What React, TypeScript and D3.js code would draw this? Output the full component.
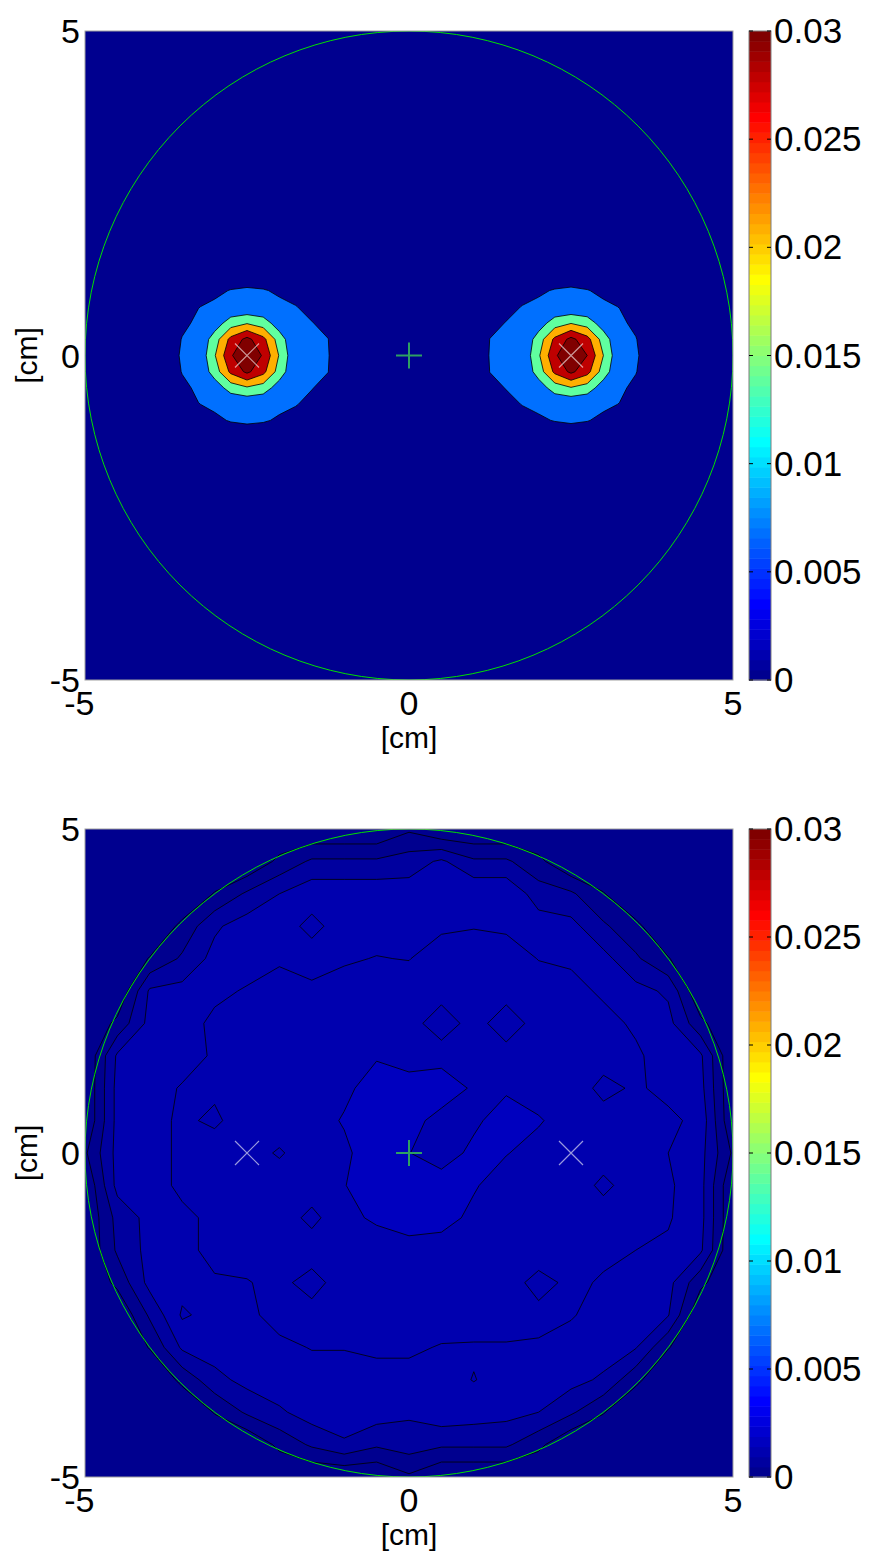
import React, { useEffect, useRef } from "react";
import * as d3 from "d3";

const W = 873;
const H = 1554;
const CMAX = 0.03;

// axis ticks (cm) and colour bar ticks
const axisTicks = [-5, 0, 5];
const axisTickLabels = ["-5", "0", "5"];
const cbarTicks = [0, 0.005, 0.01, 0.015, 0.02, 0.025, 0.03];
const cbarTickLabels = ["0", "0.005", "0.01", "0.015", "0.02", "0.025", "0.03"];

// source marks (cm)
const sourcesX = [-2.5, 2.5];
const centreMark = [0, 0];
const domainRadius = 5;

// ---- top panel: two hot spots, local patches, values x 1e-3, 0.25 cm spacing
const topLevels = [0.007, 0.014, 0.021, 0.028, 0.035];
const topUnit = 1e-3;
const patchStep = 0.25;
const leftSpotCentre = [-2.5, 0];
const rightSpotCentre = [2.5, 0];
const leftSpot = [
  [0, 0, 0, 0.3, 0.7, 0.9, 1, 0.9, 0.7, 0.5, 0.3, 0, 0],
  [0, 0, 0.6, 1.6, 3.2, 4.1, 4.5, 4.2, 3.3, 2.0, 1.2, 0.3, 0],
  [0, 0.6, 2.2, 4.5, 6.1, 7.2, 7.6, 7.3, 6.4, 5.0, 3.2, 1.5, 0.5],
  [0.3, 1.6, 4.5, 6.9, 7.8, 8.0, 8.1, 8.0, 7.9, 7.2, 5.5, 3.0, 1.0],
  [0.7, 3.2, 6.1, 7.8, 10.2, 17.5, 20.4, 17.5, 10.2, 7.9, 7.2, 5.5, 1.5],
  [0.9, 4.1, 7.2, 8.0, 17.5, 30, 37, 30, 17.5, 8.0, 7.8, 7.1, 2.5],
  [1.0, 4.5, 7.6, 8.1, 20.4, 34, 43, 34, 20.4, 8.1, 8.0, 7.3, 3.0],
  [0.9, 4.1, 7.2, 8.0, 17.2, 29.5, 36.5, 30, 17.8, 8.0, 7.8, 7.1, 2.5],
  [0.7, 3.1, 6.0, 7.8, 10, 17, 20, 17.6, 10.5, 7.9, 7.2, 5.4, 1.5],
  [0.3, 1.5, 4.4, 6.9, 7.8, 8.0, 8.2, 8.0, 7.9, 7.3, 5.6, 3.0, 1.0],
  [0, 0.5, 2.2, 4.6, 6.2, 7.3, 7.7, 7.4, 6.5, 5.1, 3.2, 1.5, 0.5],
  [0, 0, 0.6, 1.6, 3.3, 4.2, 4.6, 4.3, 3.4, 2.0, 1.2, 0.3, 0],
  [0, 0, 0, 0.3, 0.7, 0.9, 1, 0.9, 0.7, 0.5, 0.3, 0, 0],
];
const rightSpot = [
  [0, 0, 0.3, 0.5, 0.7, 0.9, 1, 0.9, 0.7, 0.3, 0, 0, 0],
  [0, 0.3, 1.2, 2.0, 3.3, 4.2, 4.5, 4.1, 3.2, 1.6, 0.6, 0, 0],
  [0.5, 1.5, 3.2, 5.0, 6.4, 7.3, 7.7, 7.2, 6.1, 4.5, 2.2, 0.6, 0],
  [1.0, 3.0, 5.5, 7.2, 7.9, 8.0, 8.1, 8.0, 7.8, 6.9, 4.5, 1.6, 0.3],
  [1.5, 5.5, 7.2, 7.9, 10.4, 17.5, 20.6, 17.8, 10.4, 7.8, 6.1, 3.2, 0.7],
  [2.5, 7.1, 7.8, 8.0, 17.3, 29.5, 37, 30.5, 17.8, 8.0, 7.2, 4.1, 0.9],
  [3.0, 7.3, 8.0, 8.1, 20, 33.5, 43, 35, 21, 8.2, 7.6, 4.5, 1.0],
  [2.5, 7.1, 7.8, 8.0, 17.2, 29.5, 36.5, 30.5, 17.6, 8.0, 7.2, 4.1, 0.9],
  [1.5, 5.4, 7.2, 7.9, 10.2, 17.3, 20.4, 17.6, 10.3, 7.8, 6.0, 3.1, 0.7],
  [1.0, 3.0, 5.5, 7.2, 7.9, 8.0, 8.1, 8.0, 7.8, 6.9, 4.4, 1.5, 0.3],
  [0.5, 1.5, 3.2, 5.0, 6.4, 7.2, 7.6, 7.2, 6.1, 4.5, 2.2, 0.5, 0],
  [0, 0.3, 1.2, 2.0, 3.3, 4.1, 4.5, 4.1, 3.2, 1.6, 0.6, 0, 0],
  [0, 0, 0.3, 0.5, 0.7, 0.9, 1, 0.9, 0.7, 0.3, 0, 0, 0],
];

// ---- bottom panel: whole disc, values x 1.1e-4, 0.5 cm spacing, rows y = 5 .. -5
const bottomLevels = [0.00033, 0.00066, 0.00099, 0.00132, 0.00165];
const bottomUnit = 1.1e-4;
const bottomStep = 0.5;
const bottomGrid = [
  [0, 0, 0, 0, 0, 0, 0, 0, 0, 0, 2.5, 0, 0, 0, 0, 0, 0, 0, 0, 0, 0],
  [0, 0, 0, 0, 0, 0, 3.8, 6.5, 6.5, 6.5, 7.5, 9.5, 6.5, 6.5, 3.8, 0, 0, 0, 0, 0, 0],
  [0, 0, 0, 0, 3.2, 6.5, 9, 11, 11, 11, 10.5, 11.5, 11.5, 11.5, 7.5, 6.5, 3.2, 0, 0, 0, 0],
  [0, 0, 0, 3.8, 8.5, 10.5, 11, 12.6, 11, 11, 11.3, 11.5, 11.8, 11.5, 10.5, 10, 6.5, 3.8, 0, 0, 0],
  [0, 0, 3.2, 6.5, 10, 11, 11.5, 11, 11.7, 12.1, 11.9, 13.5, 14, 13.5, 11.9, 11.5, 10, 6.5, 3.2, 0, 0],
  [0, 0, 9.5, 10, 11.5, 12.2, 13.5, 12.5, 13, 13.5, 13.5, 14, 14, 14, 13.5, 13, 11.5, 10, 8.5, 0, 0],
  [0, 3.8, 10, 11, 12.5, 13.5, 14, 13.8, 14, 14, 14, 9.3, 14, 9.3, 14, 13.8, 13, 11.5, 10, 3.8, 0],
  [0, 9.5, 10.5, 11, 12.3, 13.5, 14, 14, 14.8, 14.8, 14.5, 14.5, 14, 14, 14, 14, 13.5, 12.5, 10.5, 9.5, 0],
  [0, 10, 11, 12.2, 12.5, 13.5, 14, 14, 14.5, 16, 15.5, 15.8, 14.8, 14.7, 14, 14, 11, 12.5, 11, 10, 0],
  [0, 10, 11, 12.5, 11.5, 13.5, 14, 14, 15.2, 16.5, 15.5, 14.5, 14.6, 16, 15.2, 14, 13.5, 13, 12.8, 11, 0],
  [2.5, 10, 11, 12.5, 13.5, 13.5, 11.6, 14, 14.5, 16.5, 15.05, 14, 15.5, 15.1, 14.2, 14, 13.5, 13, 12, 10, 2.5],
  [0, 10, 11, 12.5, 13.5, 14, 14, 14, 14.9, 16.5, 16.5, 16, 15.2, 14, 14, 13.8, 11.3, 13.5, 12.5, 10, 0],
  [0, 7, 10, 11.5, 12.5, 13.5, 14, 11, 14.5, 15.3, 16, 15.8, 14.5, 14, 14, 14, 13.5, 13, 12.3, 10, 0],
  [0, 6.5, 10, 11.5, 12.5, 13.5, 14, 14, 14, 14, 14.2, 14, 14, 14, 14.5, 13.5, 13, 12, 11.5, 9.5, 0],
  [0, 3.8, 10, 11, 11.8, 11.8, 13, 10.5, 14, 14, 14, 14, 14, 14, 10.5, 13, 11.5, 11, 10, 3.8, 0],
  [0, 0, 6.5, 12.4, 11, 11.5, 12.8, 13.5, 13.5, 14, 13.8, 13.5, 13.5, 13.5, 13.2, 12.2, 11, 10, 9.2, 0, 0],
  [0, 0, 3.2, 9.5, 10.5, 11, 11.5, 12.1, 12.1, 12.5, 12.5, 11.8, 11.7, 11.7, 11.5, 11, 10.5, 9.2, 3.2, 0, 0],
  [0, 0, 0, 3.8, 8, 10, 11, 11, 11, 11, 11, 11, 12.1, 11, 11, 10, 8.5, 3.8, 0, 0, 0],
  [0, 0, 0, 0, 3.2, 6.5, 8.5, 10.5, 11, 10.5, 9.5, 11, 10.5, 10, 9, 6.5, 3.2, 0, 0, 0, 0],
  [0, 0, 0, 0, 0, 0, 3.8, 6.5, 8.5, 6.5, 7.5, 6.5, 6.5, 6.5, 3.8, 0, 0, 0, 0, 0, 0],
  [0, 0, 0, 0, 0, 0, 0, 0, 0, 0, 2.5, 0, 0, 0, 0, 0, 0, 0, 0, 0, 0],
];

// MATLAB jet(64), k = 1..64
function jet64(k) {
  const r = k < 25 ? 0 : k <= 40 ? (k - 24) / 16 : k <= 56 ? 1 : (72 - k) / 16;
  const g = k < 9 ? 0 : k <= 24 ? (k - 8) / 16 : k <= 39 ? 1 : k <= 55 ? (56 - k) / 16 : 0;
  const b = k <= 8 ? (k + 8) / 16 : k <= 23 ? 1 : k <= 39 ? (40 - k) / 16 : 0;
  return d3.rgb(r * 255, g * 255, b * 255).formatHex();
}
function colorOf(v) {
  const k = Math.max(1, Math.min(64, Math.floor((v / CMAX) * 64) + 1));
  return jet64(k);
}

const font = "'Liberation Sans', Arial, Helvetica, sans-serif";

function drawContours(g, grid, unit, levels, x0, yTop, step, sx, sy) {
  const m = grid.length;
  const n = grid[0].length;
  const values = grid.flat().map((v) => v * unit);
  const proj = d3.geoTransform({
    point: function (x, y) {
      this.stream.point(sx(x0 + (x - 0.5) * step), sy(yTop - (y - 0.5) * step));
    },
  });
  const path = d3.geoPath(proj);
  const cs = d3.contours().size([n, m]).thresholds(levels)(values);
  g.append("g")
    .selectAll("path")
    .data(cs)
    .join("path")
    .attr("d", (d) => path(d))
    .attr("fill", (d) => colorOf(d.value))
    .attr("fill-rule", "evenodd")
    .attr("stroke", "#000")
    .attr("stroke-width", 0.8)
    .attr("stroke-linejoin", "round");
}

function drawPanel(svg, idx, top, bottom, layers) {
  const left = 85;
  const right = 733;
  const sx = d3.scaleLinear().domain([-5, 5]).range([left, right]);
  const sy = d3.scaleLinear().domain([-5, 5]).range([bottom, top]);

  const clipId = "plotclip" + idx;
  svg.append("clipPath").attr("id", clipId)
    .append("rect").attr("x", left).attr("y", top).attr("width", right - left).attr("height", bottom - top);

  const g = svg.append("g").attr("clip-path", `url(#${clipId})`);
  g.append("rect").attr("x", left).attr("y", top).attr("width", right - left).attr("height", bottom - top)
    .attr("fill", colorOf(0));

  layers.forEach((L) => drawContours(g, L.grid, L.unit, L.levels, L.x0, L.yTop, L.step, sx, sy));

  // domain boundary
  g.append("ellipse")
    .attr("cx", sx(0)).attr("cy", sy(0))
    .attr("rx", sx(domainRadius) - sx(0)).attr("ry", sy(0) - sy(domainRadius))
    .attr("fill", "none").attr("stroke", "#00e000").attr("stroke-width", 1);

  // centre +
  const c = [sx(centreMark[0]), sy(centreMark[1])];
  g.append("path")
    .attr("d", `M${c[0] - 13},${c[1]}H${c[0] + 13}M${c[0]},${c[1] - 13}V${c[1] + 13}`)
    .attr("stroke", "#2ea062").attr("stroke-width", 2);

  // source x marks
  sourcesX.forEach((xv) => {
    const px = sx(xv), py = sy(0);
    g.append("path")
      .attr("d", `M${px - 12},${py - 12}L${px + 12},${py + 12}M${px - 12},${py + 12}L${px + 12},${py - 12}`)
      .attr("stroke", "#ffffff").attr("stroke-opacity", 0.6).attr("stroke-width", 1.2);
  });

  svg.append("rect").attr("x", left).attr("y", top).attr("width", right - left).attr("height", bottom - top)
    .attr("fill", "none").attr("stroke", "#a0a0a0").attr("stroke-width", 1);

  // tick labels
  svg.append("g").selectAll("text").data(axisTicks).join("text")
    .attr("x", (d) => sx(d) + 9.5).attr("y", bottom + 35)
    .attr("text-anchor", "end").attr("font-family", font).attr("font-size", 34)
    .text((d, i) => axisTickLabels[i]);
  svg.append("g").selectAll("text").data(axisTicks).join("text")
    .attr("x", 80).attr("y", (d) => sy(d) + 12)
    .attr("text-anchor", "end").attr("font-family", font).attr("font-size", 34)
    .text((d, i) => axisTickLabels[i]);

  svg.append("text").attr("x", sx(0)).attr("y", bottom + 68)
    .attr("text-anchor", "middle").attr("font-family", font).attr("font-size", 30).text("[cm]");
  svg.append("text")
    .attr("transform", `translate(37,${sy(0)}) rotate(-90)`)
    .attr("text-anchor", "middle").attr("font-family", font).attr("font-size", 30).text("[cm]");

  // colour bar
  const cbx = 749, cbw = 22;
  const cy = d3.scaleLinear().domain([0, CMAX]).range([bottom, top]);
  const bands = d3.range(64);
  svg.append("g").selectAll("rect").data(bands).join("rect")
    .attr("x", cbx).attr("width", cbw)
    .attr("y", (k) => cy(((k + 1) / 64) * CMAX))
    .attr("height", (k) => cy((k / 64) * CMAX) - cy(((k + 1) / 64) * CMAX) + 0.5)
    .attr("fill", (k) => jet64(k + 1));
  svg.append("rect").attr("x", cbx).attr("y", top).attr("width", cbw).attr("height", bottom - top)
    .attr("fill", "none").attr("stroke", "#7f7f7f").attr("stroke-width", 1);
  const tk = svg.append("g");
  cbarTicks.forEach((t, i) => {
    const y = cy(t);
    tk.append("path").attr("d", `M${cbx},${y}h4M${cbx + cbw},${y}h-4`).attr("stroke", "#000").attr("stroke-width", 1);
    tk.append("text").attr("x", cbx + cbw + 3).attr("y", y + 12)
      .attr("font-family", font).attr("font-size", 35).text(cbarTickLabels[i]);
  });
}

export default function App() {
  const ref = useRef(null);
  useEffect(() => {
    const svg = d3.select(ref.current);
    svg.selectAll("*").remove();
    const half = ((leftSpot.length - 1) / 2) * patchStep;
    drawPanel(svg, 0, 31, 680, [
      { grid: leftSpot, unit: topUnit, levels: topLevels, x0: leftSpotCentre[0] - half, yTop: leftSpotCentre[1] + half, step: patchStep },
      { grid: rightSpot, unit: topUnit, levels: topLevels, x0: rightSpotCentre[0] - half, yTop: rightSpotCentre[1] + half, step: patchStep },
    ]);
    drawPanel(svg, 1, 829, 1477, [
      { grid: bottomGrid, unit: bottomUnit, levels: bottomLevels, x0: -5, yTop: 5, step: bottomStep },
    ]);
  }, []);
  return (
    <svg ref={ref} width={W} height={H}
      style={{ position: "absolute", left: 0, top: 0, background: "#fff" }} />
  );
}
